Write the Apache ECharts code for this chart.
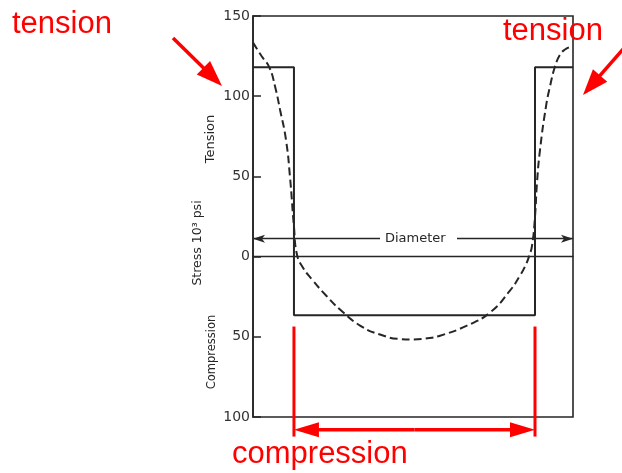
<!DOCTYPE html>
<html>
<head>
<meta charset="utf-8">
<script src="https://cdn.jsdelivr.net/npm/echarts@6/dist/echarts.min.js"></script>
<style>
html,body{margin:0;padding:0;background:#fff;}
#c{width:622px;height:473px;}
</style>
</head>
<body>
<div id="c"></div>
<script>
// position across the diameter (-1 = left surface, 1 = right surface)
const curvePos = [-1.0, -0.9456, -0.898, -0.8625, -0.831, -0.794, -0.769, -0.744, -0.725, -0.6875, -0.631, -0.5375, -0.456, -0.331, -0.206, -0.081, 0.0,
  0.075, 0.169, 0.3375, 0.481, 0.606, 0.669, 0.700, 0.725, 0.744, 0.7625, 0.775, 0.794, 0.831, 0.856, 0.8875, 0.919, 0.95, 0.9875];
// stress, 10^3 psi (dashed curve)
const curveStress = [133.4, 124.9, 118.0, 106.2, 91.6, 72.9, 49.9, 18.7, 1.2, -6.9, -14.3, -24.9, -33.0, -43.0, -48.6, -51.4, -51.7,
  -51.1, -49.3, -43.0, -34.9, -21.2, -11.8, -6.2, 0, 6.9, 24.9, 46.1, 66.7, 93.5, 106.0, 118.5, 125.9, 129.1, 130.9];
// step (solid) profile
const stepPos = [-1.0, -0.744, -0.744, 0.7625, 0.7625, 1.0];
const stepStress = [118, 118, -36.6, -36.6, 118, 118];
// axis
const yTicks = [-100, -50, 0, 50, 100, 150];
const diameterLevel = 11.2;
const diameterGap = [-0.206, 0.275];
const diameterLabel = 'Diameter';

const ink = '#262626';
const red = '#ff0000';

const chart = echarts.init(document.getElementById('c'), null, {renderer: 'canvas'});
const option = {
  animation: false,
  backgroundColor: '#fff',
  grid: {left: 253, top: 16, right: 49, bottom: 56, show: true, borderColor: ink, borderWidth: 1.6, backgroundColor: 'transparent'},
  xAxis: {
    type: 'value', min: -1, max: 1,
    axisLine: {show: true, onZero: true, lineStyle: {color: ink, width: 1.3}},
    axisTick: {show: false}, axisLabel: {show: false}, splitLine: {show: false}
  },
  yAxis: {
    type: 'value', min: yTicks[0], max: yTicks[yTicks.length - 1], interval: 50,
    axisLine: {show: true, onZero: false, lineStyle: {color: ink, width: 1.6}},
    axisTick: {show: true, inside: true, length: 8, lineStyle: {color: ink, width: 1.5}},
    axisLabel: {margin: 3, color: '#333', fontSize: 14, fontFamily: 'DejaVu Sans', formatter: v => String(Math.abs(v))},
    splitLine: {show: false}
  },
  series: [
    {
      type: 'line', data: stepPos.map((x, i) => [x, stepStress[i]]),
      symbol: 'none', lineStyle: {color: ink, width: 2}, z: 3,
      markLine: {
        silent: true, symbolSize: [6, 12],
        lineStyle: {color: ink, width: 1.3, type: 'solid'},
        label: {show: false},
        data: [
          [{coord: [diameterGap[0], diameterLevel], symbol: 'none'}, {coord: [-1, diameterLevel], symbol: 'arrow'}],
          [{coord: [diameterGap[1], diameterLevel], symbol: 'none'}, {coord: [1, diameterLevel], symbol: 'arrow'}]
        ]
      }
    },
    {
      type: 'line', data: curvePos.map((x, i) => [x, curveStress[i]]),
      symbol: 'none', smooth: 0.5,
      lineStyle: {color: ink, width: 2, type: [8, 4]}, z: 2
    }
  ]
};
chart.setOption(option);

function arrow(tail, tip, headLen, headW, lw) {
  const dx = tip[0] - tail[0], dy = tip[1] - tail[1];
  const L = Math.hypot(dx, dy), ux = dx / L, uy = dy / L;
  const bx = tip[0] - ux * headLen, by = tip[1] - uy * headLen;
  const px = -uy * headW / 2, py = ux * headW / 2;
  return [
    {type: 'line', shape: {x1: tail[0], y1: tail[1], x2: bx + ux * 2, y2: by + uy * 2}, style: {stroke: red, lineWidth: lw}, z: 100},
    {type: 'polygon', shape: {points: [tip, [bx + px, by + py], [bx - px, by - py]]}, style: {fill: red}, z: 100}
  ];
}
const P = (x, y) => chart.convertToPixel({gridIndex: 0}, [x, y]);
const leftEdge = P(stepPos[1], -43.6), leftEnd = P(stepPos[1], -112.2);
const rightEdge = P(stepPos[3], -43.6), rightEnd = P(stepPos[3], -112.2);
const arrowY = P(0, -107.9)[1];
const dLab = P((diameterGap[0] + diameterGap[1]) / 2 - 0.02, diameterLevel);

const g = [];
g.push({type: 'text', x: dLab[0], y: dLab[1], style: {text: diameterLabel, fill: ink, fontSize: 13, fontFamily: 'DejaVu Sans', align: 'center', verticalAlign: 'middle'}, z: 50});
g.push({type: 'line', shape: {x1: leftEdge[0], y1: leftEdge[1], x2: leftEnd[0], y2: leftEnd[1]}, style: {stroke: red, lineWidth: 3}, z: 100});
g.push({type: 'line', shape: {x1: rightEdge[0], y1: rightEdge[1], x2: rightEnd[0], y2: rightEnd[1]}, style: {stroke: red, lineWidth: 3}, z: 100});
const mid = (leftEdge[0] + rightEdge[0]) / 2;
g.push(...arrow([mid, arrowY], [leftEdge[0], arrowY], 25, 15, 3.5));
g.push(...arrow([mid, arrowY], [rightEdge[0], arrowY], 25, 15, 3.5));
g.push(...arrow([173, 38], [222, 86], 26, 19, 3.5));
g.push(...arrow([624, 48], [583, 95], 26, 19, 3.5));

const redFont = {fill: red, fontSize: 31, fontFamily: 'Liberation Sans, Arial, sans-serif', verticalAlign: 'middle'};
g.push({type: 'text', x: 12, y: 24, style: Object.assign({text: 'tension', align: 'left'}, redFont), z: 100});
g.push({type: 'text', x: 503, y: 31, style: Object.assign({text: 'tension', align: 'left'}, redFont), z: 100});
g.push({type: 'text', x: 232, y: 454, style: Object.assign({text: 'compression', align: 'left'}, redFont), z: 100});

const axFont = {fill: ink, fontFamily: 'DejaVu Sans', align: 'center', verticalAlign: 'middle'};
g.push({type: 'text', x: 211, y: 139, rotation: Math.PI / 2, style: Object.assign({text: 'Tension', fontSize: 13}, axFont), z: 50});
g.push({type: 'text', x: 198, y: 243, rotation: Math.PI / 2, style: Object.assign({text: 'Stress 10³ psi', fontSize: 12.5}, axFont), z: 50});
g.push({type: 'text', x: 212, y: 352, rotation: Math.PI / 2, style: Object.assign({text: 'Compression', fontSize: 11.5}, axFont), z: 50});

chart.setOption({graphic: g});
</script>
</body>
</html>
